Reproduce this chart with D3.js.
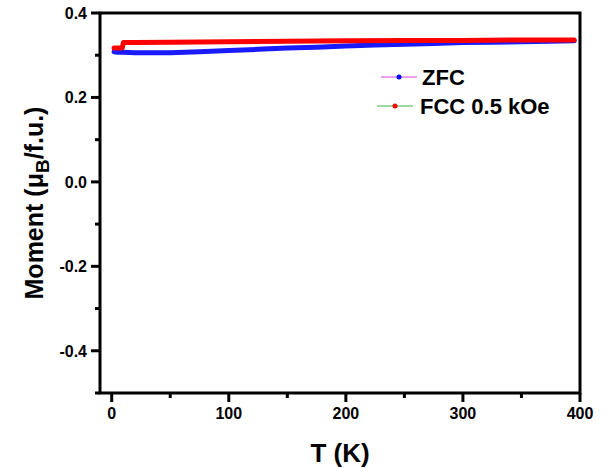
<!DOCTYPE html>
<html>
<head>
<meta charset="utf-8">
<script src="https://cdnjs.cloudflare.com/ajax/libs/d3/7.8.5/d3.min.js"></script>
<style>
body { margin:0; background:#fff; }
svg text { font-family:"Liberation Sans", Arial, sans-serif; font-weight:bold; }
</style>
</head>
<body>
<div id="chart"></div>
<script>
// ZFC curve
var zfcT = [2, 5, 10, 20, 30, 40, 50, 75, 100, 125, 150, 175, 200, 225, 250, 275, 300, 325, 350, 375, 395];
var zfcM = [0.308, 0.307, 0.307, 0.306, 0.306, 0.306, 0.306, 0.308, 0.311, 0.314, 0.317, 0.319, 0.322, 0.324, 0.326, 0.328, 0.330, 0.331, 0.332, 0.333, 0.334];
// field cooled curve, 0.5 kOe
var fccT = [2, 4, 6, 9, 10, 20, 50, 100, 150, 200, 250, 300, 350, 395];
var fccM = [0.317, 0.317, 0.317, 0.317, 0.330, 0.330, 0.331, 0.332, 0.333, 0.334, 0.335, 0.335, 0.336, 0.336];

var xTicks = [0, 100, 200, 300, 400];
var yTicks = [-0.4, -0.2, 0.0, 0.2, 0.4];

var W = 613, H = 468;
var pLeft = 100, pRight = 580, pTop = 13, pBottom = 393;

var svg = d3.select('#chart').append('svg').attr('width', W).attr('height', H);

var x = d3.scaleLinear().domain([-10, 400]).range([pLeft, pRight]);
var y = d3.scaleLinear().domain([-0.5, 0.4]).range([pBottom, pTop]);

// frame
svg.append('rect').attr('x', pLeft).attr('y', pTop)
    .attr('width', pRight - pLeft).attr('height', pBottom - pTop)
    .attr('fill', 'none').attr('stroke', 'black').attr('stroke-width', 3);

// major + minor ticks, bottom
var xMinor = d3.range(50, 400, 100);
svg.append('g').selectAll('line').data(xTicks).enter().append('line')
    .attr('x1', function(d) { return x(d); }).attr('x2', function(d) { return x(d); })
    .attr('y1', pBottom).attr('y2', pBottom + 9)
    .attr('stroke', 'black').attr('stroke-width', 3);
svg.append('g').selectAll('line').data(xMinor).enter().append('line')
    .attr('x1', function(d) { return x(d); }).attr('x2', function(d) { return x(d); })
    .attr('y1', pBottom).attr('y2', pBottom + 5)
    .attr('stroke', 'black').attr('stroke-width', 3);
svg.append('g').selectAll('text').data(xTicks).enter().append('text')
    .attr('x', function(d) { return x(d); }).attr('y', pBottom + 26)
    .attr('text-anchor', 'middle').attr('font-size', 16)
    .text(function(d) { return d; });

// left axis ticks
var yMinor = [-0.5, -0.3, -0.1, 0.1, 0.3];
svg.append('g').selectAll('line').data(yTicks).enter().append('line')
    .attr('x1', pLeft - 9).attr('x2', pLeft)
    .attr('y1', function(d) { return y(d); }).attr('y2', function(d) { return y(d); })
    .attr('stroke', 'black').attr('stroke-width', 3);
svg.append('g').selectAll('line').data(yMinor).enter().append('line')
    .attr('x1', pLeft - 5).attr('x2', pLeft)
    .attr('y1', function(d) { return y(d); }).attr('y2', function(d) { return y(d); })
    .attr('stroke', 'black').attr('stroke-width', 3);
svg.append('g').selectAll('text').data(yTicks).enter().append('text')
    .attr('x', pLeft - 13).attr('y', function(d) { return y(d) + 6; })
    .attr('text-anchor', 'end').attr('font-size', 16)
    .text(function(d) { return d.toFixed(1); });

// curves
var line = d3.line()
    .x(function(d) { return x(d[0]); })
    .y(function(d) { return y(d[1]); });

svg.append('path').datum(d3.zip(zfcT, zfcM))
    .attr('d', line).attr('fill', 'none')
    .attr('stroke', '#1a1aff').attr('stroke-width', 5)
    .attr('stroke-linecap', 'round').attr('stroke-linejoin', 'round');
svg.append('path').datum(d3.zip(fccT, fccM))
    .attr('d', line).attr('fill', 'none')
    .attr('stroke', '#ff0000').attr('stroke-width', 5)
    .attr('stroke-linecap', 'round').attr('stroke-linejoin', 'round');

// legend
var legend = [
    {name: 'ZFC', line: '#e040e0', dot: '#0000ff', lx: 381, tx: 422, y: 77},
    {name: 'FCC 0.5 kOe', line: '#40b040', dot: '#ff0000', lx: 377, tx: 420, y: 106}
];
var lg = svg.append('g').selectAll('g').data(legend).enter().append('g');
lg.append('line')
    .attr('x1', function(d) { return d.lx; }).attr('x2', function(d) { return d.lx + 36; })
    .attr('y1', function(d) { return d.y; }).attr('y2', function(d) { return d.y; })
    .attr('stroke', function(d) { return d.line; }).attr('stroke-width', 1);
lg.append('circle')
    .attr('cx', function(d) { return d.lx + 18; }).attr('cy', function(d) { return d.y; })
    .attr('r', 2.5).attr('fill', function(d) { return d.dot; });
lg.append('text')
    .attr('x', function(d) { return d.tx; }).attr('y', function(d) { return d.y + 8; })
    .attr('font-size', 22)
    .text(function(d) { return d.name; });

// axis titles
svg.append('text').attr('x', 340).attr('y', 462)
    .attr('text-anchor', 'middle').attr('font-size', 26)
    .text('T (K)');

var yt = svg.append('text')
    .attr('transform', 'translate(43,' + ((pTop + pBottom) / 2) + ') rotate(-90)')
    .attr('text-anchor', 'middle').attr('font-size', 25);
yt.append('tspan').text('Moment (\u03bc');
yt.append('tspan').attr('font-size', 19).attr('dy', 6).text('B');
yt.append('tspan').attr('dy', -6).text('/f.u.)');
</script>
</body>
</html>
